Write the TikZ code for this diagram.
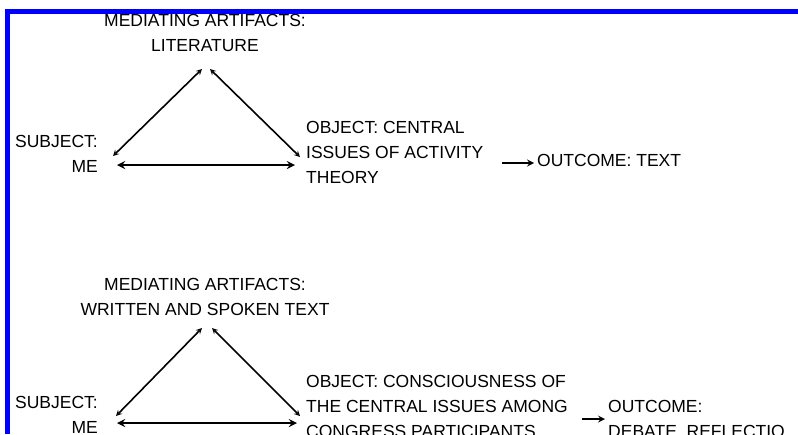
\documentclass[tikz,border=0pt]{standalone}
\usepackage{fontspec}
\setmainfont{Liberation Sans}
\usetikzlibrary{arrows}

\tikzset{
  txt/.style={font=\fontsize{17.5}{25}\selectfont, inner sep=0pt},
  leg/.style={<->, >=stealth, line width=1.6pt},
  legbase/.style={<->, >=stealth, line width=2.6pt},
  flow/.style={->, >=stealth, line width=2pt, shorten >=3pt}
}

\begin{document}
\begin{tikzpicture}[x=1pt,y=-1pt]
  \useasboundingbox (0,0) rectangle (798,434);
  \clip (0,0) rectangle (798,434);
  % first triangle: literature
  \node[txt, align=center, anchor=base] (artifacts1) at (205,51) {MEDIATING ARTIFACTS:\\LITERATURE};
  \node[txt, align=right, anchor=base east] (subject1) at (98,172.5) {SUBJECT:\\ME};
  \node[txt, align=left, anchor=base west] (object1) at (306,183.5) {OBJECT: CENTRAL\\ISSUES OF ACTIVITY\\THEORY};
  \node[txt, anchor=base west] (outcome1) at (537,166.5) {OUTCOME: TEXT};
  \coordinate (apex1l) at (202,69);
  \coordinate (apex1r) at (210,69);
  \coordinate (left1) at (113,156);
  \coordinate (right1) at (300,157);
  \coordinate (base1l) at (117,165);
  \coordinate (base1r) at (295,165);
  \coordinate (out1) at (502,163);
  \draw[leg] (left1) -- (apex1l);
  \draw[leg] (apex1r) -- (right1);
  \draw[legbase] (base1l) -- (base1r);
  \draw[flow] (out1) -- (out1 -| outcome1.west); % to the outcome
  % second triangle: written and spoken text
  \node[txt, align=center, anchor=base] (artifacts2) at (205,315.5) {MEDIATING ARTIFACTS:\\WRITTEN AND SPOKEN TEXT};
  \node[txt, align=right, anchor=base east] (subject2) at (98,433.5) {SUBJECT:\\ME};
  \node[txt, align=left, anchor=base west] (object2) at (306,437.5) {OBJECT: CONSCIOUSNESS OF\\THE CENTRAL ISSUES AMONG\\CONGRESS PARTICIPANTS};
  \node[txt, align=left, anchor=base west] (outcome2) at (608,437.5) {OUTCOME:\\DEBATE, REFLECTIO};
  \coordinate (apex2l) at (202,328);
  \coordinate (apex2r) at (212,328);
  \coordinate (left2) at (116,416);
  \coordinate (right2) at (300,416);
  \coordinate (base2l) at (117,423);
  \coordinate (base2r) at (297,423);
  \coordinate (out2) at (582,419);
  \draw[leg] (left2) -- (apex2l);
  \draw[leg] (apex2r) -- (right2);
  \draw[legbase] (base2l) -- (base2r);
  \draw[flow] (out2) -- (out2 -| outcome2.west);
  % window edge
  \fill[white] (0,0) rectangle (798,14);
  \fill[white] (0,0) rectangle (10,434);
  \draw[blue, line width=5pt] (7.5,434) -- (7.5,11.5) -- (798,11.5);
\end{tikzpicture}
\end{document}
